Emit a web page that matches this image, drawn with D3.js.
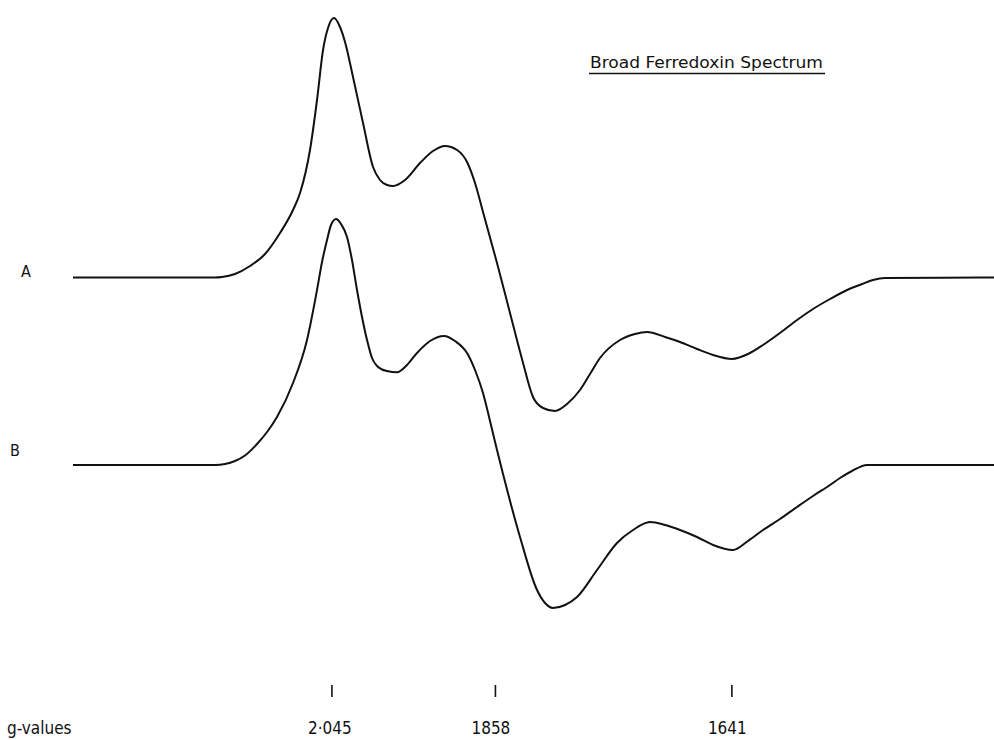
<!DOCTYPE html>
<html>
<head>
<meta charset="utf-8">
<script src="https://cdn.jsdelivr.net/npm/d3@7"></script>
<style>
  html, body { margin: 0; padding: 0; background: #fff; }
  svg { display: block; }
  text { font-family: "DejaVu Sans Condensed", "DejaVu Sans", sans-serif; fill: #111; }
</style>
</head>
<body>
<svg id="chart" width="994" height="740"></svg>
<script>
// Magnetic field (mT) and first-derivative EPR amplitude (arbitrary units)
const fieldA = [270.20, 285.44, 298.30, 299.68, 302.25, 305.22, 308.19, 311.16, 313.73, 315.12,
  317.09, 318.48, 319.67, 320.65, 321.84, 323.03, 324.02, 325.60, 327.58, 329.56,
  330.94, 332.33, 333.51, 335.89, 338.86, 341.43, 343.80, 346.18, 348.16, 349.74,
  351.32, 354.09, 356.66, 359.24, 361.21, 363.19, 365.57, 367.94, 370.51, 372.49,
  374.47, 378.43, 381.39, 383.77, 387.33, 390.30, 393.66, 396.83, 400.59, 403.75,
  406.72, 410.08, 413.45, 416.61, 419.98, 423.34, 426.31, 428.48, 430.86, 452.42];
const signalA = [0, 0, 0, 0.2, 1.4, 4.6, 9.4, 17.8, 27.0, 33.8,
  51.0, 71.0, 91.0, 99.8, 103.8, 100.2, 94.2, 80.2, 61.8, 44.2,
  39.0, 37.0, 36.6, 39.0, 45.8, 50.6, 52.6, 51.0, 46.2, 37.8,
  26.2, 5.8, -14.2, -34.2, -47.8, -52.2, -53.4, -50.6, -45.0, -38.6,
  -32.2, -25.0, -22.6, -21.8, -23.8, -25.8, -28.6, -31.0, -32.6, -30.6,
  -27.0, -22.2, -17.0, -12.6, -8.6, -5.0, -2.6, -1.0, -0.2, 0];

const fieldB = [270.20, 295.33, 298.30, 300.28, 302.25, 304.23, 306.61, 308.59, 310.56, 313.73, 316.50,
  318.48, 319.47, 320.46, 321.25, 322.24, 323.23, 324.41, 325.40, 326.39, 328.37,
  329.36, 330.35, 331.34, 332.33, 334.31, 336.28, 338.26, 340.84, 343.61, 345.78, 348.16,
  349.74, 351.32, 352.71, 354.09, 355.28, 358.64, 362.01, 363.59, 365.17, 367.55,
  369.92, 373.88, 377.83, 381.00, 384.36, 387.33, 390.30, 393.66, 396.83, 400.78,
  403.75, 406.72, 410.08, 413.45, 416.61, 419.98, 421.95, 424.33, 427.30, 452.42];
const signalB = [0, 0, 0, 0.4, 1.6, 3.8, 8.4, 13.2, 19.2, 32.8, 50.0,
  70.0, 81.2, 90.0, 96.0, 98.4, 96.4, 91.2, 82.0, 70.0, 50.0,
  42.8, 39.6, 38.2, 37.6, 37.1, 40.0, 44.8, 49.6, 51.6, 49.6, 44.8,
  38.0, 28.8, 17.6, 6.0, -3.6, -28.8, -50.0, -55.2, -57.2, -56.0,
  -52.8, -42.0, -31.2, -26.0, -22.8, -24.0, -26.0, -28.8, -32.0, -34.0,
  -30.4, -26.0, -21.6, -16.8, -12.4, -8.0, -5.2, -2.4, 0, 0];

const traceNames = ["A", "B"];
const traceOffsets = [0, -75];          // vertical stacking of the two spectra

const gValues = [2.045, 1.858, 1.641];
const gLabels = ["2·045", "1858", "1641"];
const freqGHz = 9.2;                    // X-band microwave frequency

const title = "Broad Ferredoxin Spectrum";
const axisTitle = "g-values";

// resonance field (mT) for a given g: B = h·ν / (g·μB)
const fieldOf = g => 71.4477 * freqGHz / g;

const svg = d3.select("#chart");

const x = d3.scaleLinear().domain([270.2, 452.42]).range([73, 994]);
const y = d3.scaleLinear().domain([-185, 110]).range([740, 2.5]);

const line = d3.line()
  .x(d => x(d[0]))
  .y(d => y(d[1]))
  .curve(d3.curveMonotoneX);

const traces = [
  d3.zip(fieldA, signalA),
  d3.zip(fieldB, signalB)
];

traces.forEach((pts, i) => {
  const shifted = pts.map(([f, s]) => [f, s + traceOffsets[i]]);
  svg.append("path")
    .datum(shifted)
    .attr("d", line)
    .attr("fill", "none")
    .attr("stroke", "#111")
    .attr("stroke-width", 2)
    .attr("stroke-linejoin", "round");
});

// trace labels at the left
const labelX = [21, 10];
const labelDy = [-1, -9];
traceNames.forEach((name, i) => {
  svg.append("text")
    .attr("x", labelX[i])
    .attr("y", y(traceOffsets[i]) + labelDy[i])
    .attr("font-size", 16)
    .text(name);
});

// title with underline
svg.append("text")
  .attr("x", 590)
  .attr("y", 68)
  .attr("font-size", 16.5)
  .attr("textLength", 233)
  .attr("lengthAdjust", "spacingAndGlyphs")
  .text(title);
svg.append("line")
  .attr("x1", 589).attr("x2", 825)
  .attr("y1", 73.5).attr("y2", 73.5)
  .attr("stroke", "#111").attr("stroke-width", 1.5);

// g-value markers
const gAxis = svg.append("g");
gValues.forEach((g, i) => {
  const xp = x(fieldOf(g));
  gAxis.append("line")
    .attr("x1", xp).attr("x2", xp)
    .attr("y1", 685).attr("y2", 697)
    .attr("stroke", "#111").attr("stroke-width", 1.6);
  gAxis.append("text")
    .attr("x", xp - 24)
    .attr("y", 734)
    .attr("font-size", 17)
    .text(gLabels[i]);
});

svg.append("text")
  .attr("x", 7)
  .attr("y", 734)
  .attr("font-size", 17)
  .text(axisTitle);
</script>
</body>
</html>
